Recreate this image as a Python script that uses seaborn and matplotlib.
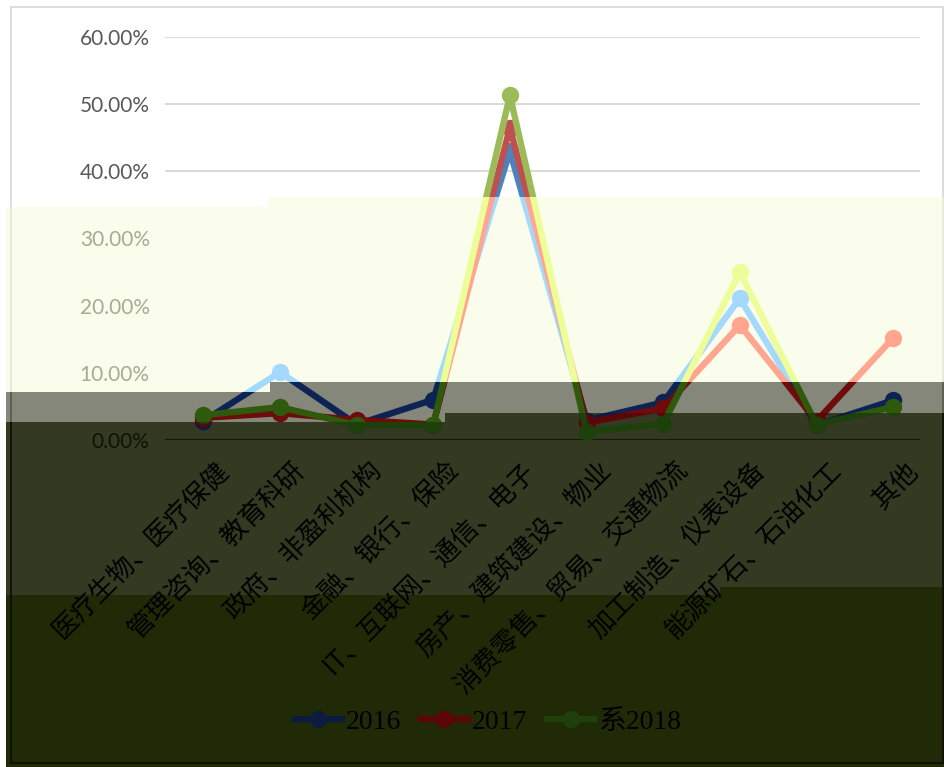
import pandas as pd
import seaborn as sns
import matplotlib.pyplot as plt
from matplotlib.patches import Polygon
from matplotlib.lines import Line2D
from matplotlib.transforms import ScaledTranslation

plt.rcParams['font.family'] = ['Noto Sans CJK SC', 'DejaVu Sans']

# 数据
categories = ["医疗生物、医疗保健", "管理咨询、教育科研", "政府、非盈利机构", "金融、银行、保险",
              "IT、互联网、通信、电子", "房产、建筑建设、物业", "消费零售、贸易、交通物流",
              "加工制造、仪表设备", "能源矿石、石油化工", "其他"]
years = ["2016", "2017", "2018"]
legend_labels = ["2016", "2017", "系2018"]
v2016 = [0.028, 0.101, 0.023, 0.060, 0.430, 0.029, 0.056, 0.211, 0.022, 0.059]
v2017 = [0.033, 0.040, 0.030, 0.023, 0.465, 0.026, 0.047, 0.171, 0.028, 0.152]
v2018 = [0.037, 0.049, 0.022, 0.022, 0.513, 0.012, 0.024, 0.250, 0.023, 0.049]
yticks = [0, 0.1, 0.2, 0.3, 0.4, 0.5, 0.6]

df = pd.DataFrame({
    "行业": categories * 3,
    "年份": [y for y in years for _ in categories],
    "占比": v2016 + v2017 + v2018,
})

W, H = 944, 767
fig = plt.figure(figsize=(W / 100, H / 100), dpi=100)


def fp(x, y):
    return (x / W, 1 - y / H)


def band_poly(top, bottom, x0=6):
    # top/bottom = (y_left, y_right, x_split) in pixels
    pts = [(x0, top[0]), (top[2], top[0]), (top[2], top[1]), (W, top[1]),
           (W, bottom[1]), (bottom[2], bottom[1]), (bottom[2], bottom[0]), (x0, bottom[0])]
    return [fp(x, y) for x, y in pts]


b1 = (207, 197, 268)
b2 = (392, 382, 270)
b3 = (422, 413, 445)
b4 = (595, 587, 720)
b5 = (H, H, 0)

white_poly = [fp(0, 0), fp(W, 0), fp(W, 197), fp(268, 197), fp(268, 207),
              fp(6, 207), fp(6, H), fp(0, H)]

bands = [
    dict(poly=white_poly, bg="#FFFFFF", pal=["#4F81BD", "#C0504D", "#9BBB59"], edge="#D9D9D9"),
    dict(poly=band_poly(b1, b2), bg="#FAFDEB", pal=["#A3D9FC", "#FFA590", "#EDFD97"], edge="#E8EAD6"),
    dict(poly=band_poly(b2, b3), bg="#85877A", pal=["#0D2354", "#6E0C0C", "#2F5A0D"], edge="#5A5C50"),
    dict(poly=band_poly(b3, b4), bg="#333A21", pal=["#0B1C40", "#5C0707", "#1E400B"], edge="#0E1106"),
    dict(poly=band_poly(b4, b5), bg="#212A07", pal=["#0B1C40", "#5C0707", "#1E400B"], edge="#0B0E02"),
]

for b in bands:
    fig.add_artist(Polygon(b["poly"], closed=True, transform=fig.transFigure,
                           facecolor=b["bg"], edgecolor="none", zorder=-5))
    # chart border
    frame = Polygon([fp(11, 7), fp(W - 1, 7), fp(W - 1, 763), fp(11, 763)], closed=True,
                    transform=fig.transFigure, facecolor="none", edgecolor=b["edge"],
                    lw=1.3, zorder=-4)
    fig.add_artist(frame)
    frame.set_clip_path(Polygon(b["poly"], closed=True, transform=fig.transFigure))

l, r, t, btm = 165, 920, 37, 440
ax = fig.add_axes([l / W, 1 - btm / H, (r - l) / W, (btm - t) / H])
ax.set_facecolor("none")

# gridlines
for v in [0.4, 0.5, 0.6]:
    ax.axhline(v, color="#D9D9D9", lw=1.4, zorder=0)
ax.axhline(0, color="#151A0A", lw=1.6, zorder=0)

for b in bands:
    n = len(ax.lines)
    sns.lineplot(data=df, x="行业", y="占比", hue="年份", palette=b["pal"], sort=False,
                 marker="o", markersize=12.5, markeredgewidth=0, linewidth=4.6,
                 legend=False, ax=ax)
    clip = Polygon(b["poly"], closed=True, transform=fig.transFigure)
    for ln in ax.lines[n:]:
        ln.set_clip_path(clip)
        ln.set_zorder(3)

ax.set_xlim(-0.5, 9.35)
ax.set_ylim(0, 0.6)
for s in ax.spines.values():
    s.set_visible(False)
ax.set_xlabel("")
ax.set_ylabel("")
ax.set_xticks([])
ax.set_yticks(yticks)
ax.set_yticklabels([f"{v * 100:.2f}%" for v in yticks], family=["Lato", "DejaVu Sans"], fontsize=15)
ax.tick_params(axis="y", length=0, pad=11)
ycolors = ["#0F1208", "#A8AA96", "#A8AA96", "#A8AA96", "#595959", "#595959", "#595959"]
for lab, c in zip(ax.get_yticklabels(), ycolors):
    lab.set_color(c)

off = ScaledTranslation(15 / 72, -19 / 72, fig.dpi_scale_trans)
for i, cat in enumerate(categories):
    ax.text(i, 0, cat, transform=ax.get_xaxis_transform() + off, rotation=45,
            rotation_mode="anchor", ha="right", va="center", fontsize=19, color="#000000")

handles = [Line2D([], [], color=c, marker="o", markersize=12.5, markeredgewidth=0, lw=4.6)
           for c in bands[4]["pal"]]
leg = fig.legend(handles, legend_labels, loc="center", bbox_to_anchor=fp(488, 722), ncol=3,
                 frameon=False, handlelength=1.7, handletextpad=0.15, columnspacing=0.7,
                 prop={"family": ["Liberation Serif", "Noto Sans CJK SC"], "size": 20})
for txt in leg.get_texts():
    txt.set_color("#000000")

fig.savefig("out.png", dpi=100)
